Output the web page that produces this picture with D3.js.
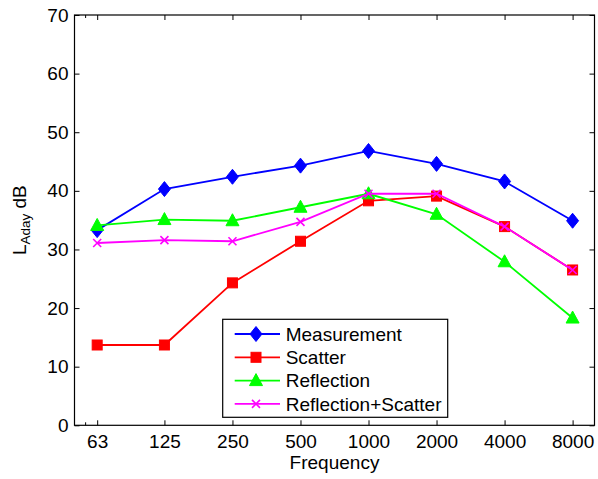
<!DOCTYPE html>
<html>
<head>
<meta charset="utf-8">
<script src="https://cdn.jsdelivr.net/npm/d3@7"></script>
<style>
  body { margin: 0; background: #fff; }
  text { font-family: "Liberation Sans", Arial, sans-serif; }
</style>
</head>
<body>
<script>
var freqs = [63, 125, 250, 500, 1000, 2000, 4000, 8000];
var measurement = [33.3, 40.3, 42.4, 44.3, 46.8, 44.6, 41.6, 34.9];
var scatter = [13.7, 13.7, 24.3, 31.4, 38.3, 39.1, 33.9, 26.5];
var reflection = [34.1, 35.1, 34.9, 37.2, 39.5, 36.0, 27.9, 18.3];
var reflScatter = [31.1, 31.6, 31.4, 34.7, 39.5, 39.5, 33.9, 26.5];
var seriesNames = ["Measurement", "Scatter", "Reflection", "Reflection+Scatter"];
var yTicks = [0, 10, 20, 30, 40, 50, 60, 70];
var minorXTicks = [56];

var width = 598, height = 479;
var plotLeft = 74.5, plotRight = 594.5, plotTop = 15, plotBottom = 425.3;
var fontSize = 19;

var svg = d3.select("body").append("svg").attr("width", width).attr("height", height);

var xScale = d3.scaleLog().domain([50, 10000]).range([plotLeft, plotRight]);
var yScale = d3.scaleLinear().domain([0, 70]).range([plotBottom, plotTop]);

var series = [
  { name: seriesNames[0], values: measurement, color: "#0000ff", marker: "diamond" },
  { name: seriesNames[1], values: scatter, color: "#ff0000", marker: "square" },
  { name: seriesNames[2], values: reflection, color: "#00ff00", marker: "triangle" },
  { name: seriesNames[3], values: reflScatter, color: "#ff00ff", marker: "x" }
];

function drawMarker(g, type, color) {
  if (type == "diamond") {
    g.append("path").attr("d", "M0,-7.5L6,0L0,7.5L-6,0Z").attr("fill", color).attr("stroke", color);
  } else if (type == "square") {
    g.append("rect").attr("x", -5).attr("y", -5).attr("width", 10).attr("height", 10)
      .attr("fill", color).attr("stroke", color);
  } else if (type == "triangle") {
    g.append("path").attr("d", "M0,-7L6.5,5L-6.5,5Z").attr("fill", color).attr("stroke", color);
  } else {
    g.append("path").attr("d", "M-4,-4L4,4M-4,4L4,-4").attr("stroke", color).attr("stroke-width", 1.6);
  }
}

// axes box
svg.append("rect")
  .attr("x", plotLeft).attr("y", plotTop).attr("width", plotRight - plotLeft).attr("height", plotBottom - plotTop)
  .attr("fill", "none").attr("stroke", "#000").attr("stroke-width", 1.2);

var axisx = d3.axisBottom(xScale).tickValues(freqs).tickFormat(d3.format("d"))
  .tickSizeInner(-5).tickSizeOuter(0).tickPadding(9.5);
var gx = svg.append("g").attr("transform", "translate(0," + plotBottom + ")").call(axisx);

var axisxTop = d3.axisTop(xScale).tickValues(freqs).tickFormat("")
  .tickSizeInner(-5).tickSizeOuter(0);
var gxt = svg.append("g").attr("transform", "translate(0," + plotTop + ")").call(axisxTop);

var axisy = d3.axisLeft(yScale).tickValues(yTicks).tickFormat(d3.format("d"))
  .tickSizeInner(-5).tickSizeOuter(0).tickPadding(6);
var gy = svg.append("g").attr("transform", "translate(" + plotLeft + ",0)").call(axisy);

var axisyRight = d3.axisRight(yScale).tickValues(yTicks).tickFormat("")
  .tickSizeInner(-5).tickSizeOuter(0);
var gyr = svg.append("g").attr("transform", "translate(" + plotRight + ",0)").call(axisyRight);

[gx, gxt, gy, gyr].forEach(function(g) {
  g.select(".domain").remove();
  g.selectAll("text").attr("font-size", fontSize).attr("fill", "#000")
    .style("font-family", "'Liberation Sans', Arial, sans-serif");
  g.selectAll("line").attr("stroke", "#000");
});

// minor log ticks
svg.append("g").selectAll("line.minb").data(minorXTicks).enter().append("line")
  .attr("x1", function(d) { return xScale(d); }).attr("x2", function(d) { return xScale(d); })
  .attr("y1", plotBottom).attr("y2", plotBottom - 3).attr("stroke", "#000");
svg.append("g").selectAll("line.mint").data(minorXTicks).enter().append("line")
  .attr("x1", function(d) { return xScale(d); }).attr("x2", function(d) { return xScale(d); })
  .attr("y1", plotTop).attr("y2", plotTop + 3).attr("stroke", "#000");

// lines and markers
var line = d3.line()
  .x(function(d, i) { return xScale(freqs[i]); })
  .y(function(d) { return yScale(d); });

series.forEach(function(s) {
  var g = svg.append("g");
  g.append("path").datum(s.values).attr("d", line)
    .attr("fill", "none").attr("stroke", s.color).attr("stroke-width", 1.8);
  g.selectAll("g.m").data(s.values).enter().append("g")
    .attr("transform", function(d, i) { return "translate(" + xScale(freqs[i]) + "," + yScale(d) + ")"; })
    .each(function() { drawMarker(d3.select(this), s.marker, s.color); });
});

// axis labels
svg.append("text").attr("x", (plotLeft + plotRight) / 2).attr("y", 469)
  .attr("text-anchor", "middle").attr("font-size", fontSize).text("Frequency");

var ylab = svg.append("text").attr("transform", "translate(26," + ((plotTop + plotBottom) / 2) + ") rotate(-90)")
  .attr("text-anchor", "middle").attr("font-size", fontSize);
ylab.append("tspan").text("L");
ylab.append("tspan").attr("font-size", 13.5).attr("dy", 4).text("Aday");
ylab.append("tspan").attr("dy", -4).text(" dB");

// legend
var legX = 222.7, legY = 319.3, legW = 225, legH = 98, rowH = 23.3;
var leg = svg.append("g");
leg.append("rect").attr("x", legX).attr("y", legY).attr("width", legW).attr("height", legH)
  .attr("fill", "#fff").attr("stroke", "#000").attr("stroke-width", 1.2);
series.forEach(function(s, i) {
  var cy = legY + 14.7 + i * rowH;
  leg.append("line").attr("x1", legX + 12).attr("x2", legX + 57.3)
    .attr("y1", cy).attr("y2", cy).attr("stroke", s.color).attr("stroke-width", 1.8);
  var m = leg.append("g").attr("transform", "translate(" + (legX + 33.3) + "," + cy + ")");
  drawMarker(m, s.marker, s.color);
  leg.append("text").attr("x", legX + 63).attr("y", cy + 6.8).attr("font-size", fontSize).text(s.name);
});
</script>
</body>
</html>
